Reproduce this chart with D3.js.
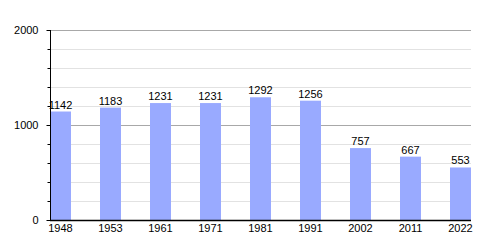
<!DOCTYPE html>
<html>
<head>
<meta charset="utf-8">
<script src="https://cdn.jsdelivr.net/npm/d3@7"></script>
<style>
  body { margin: 0; background: #fff; }
  text { font-family: "Liberation Sans", Arial, sans-serif; font-size: 11px; fill: #000; }
</style>
</head>
<body>
<svg id="chart" width="500" height="250"></svg>
<script>
// population by census year
const years = ['1948', '1953', '1961', '1971', '1981', '1991', '2002', '2011', '2022'];
const population = [1142, 1183, 1231, 1231, 1292, 1256, 757, 667, 553];
const majorTicks = [0, 1000, 2000];
const minorTicks = d3.range(0, 2001, 200);

const svg = d3.select('#chart');
const plotLeft = 50, plotRight = 471, plotTop = 30, plotBottom = 220;

const x = d3.scaleBand()
    .domain(years)
    .range([plotLeft, plotLeft + 50 * years.length])
    .paddingInner(0)
    .paddingOuter(0);
const barW = 21;

const y = d3.scaleLinear().domain([0, 2000]).range([plotBottom, plotTop]);

const minorOnly = minorTicks.filter(d => !majorTicks.includes(d));

// grid
svg.append('g').selectAll('line')
    .data(minorOnly)
    .join('line')
    .attr('x1', plotLeft).attr('x2', plotRight)
    .attr('y1', d => y(d) + 0.5).attr('y2', d => y(d) + 0.5)
    .attr('stroke', '#e2e2e2');

svg.append('g').selectAll('line')
    .data(majorTicks.filter(d => d > 0))
    .join('line')
    .attr('x1', plotLeft).attr('x2', plotRight)
    .attr('y1', d => y(d) + 0.5).attr('y2', d => y(d) + 0.5)
    .attr('stroke', '#a8a8a8');

// bars
svg.append('g').selectAll('rect')
    .data(population)
    .join('rect')
    .attr('x', (d, i) => x(years[i]))
    .attr('y', d => y(d))
    .attr('width', barW)
    .attr('height', d => plotBottom - y(d))
    .attr('fill', '#99aaff');

// value labels
svg.append('g').selectAll('text')
    .data(population)
    .join('text')
    .attr('x', (d, i) => x(years[i]) + barW / 2)
    .attr('y', d => y(d) - 3)
    .attr('text-anchor', 'middle')
    .text(d => d);

// y axis
const yAxis = d3.axisLeft(y).tickValues(majorTicks).tickSize(4).tickFormat(d3.format('d'));
const gy = svg.append('g').attr('transform', `translate(${plotLeft + 0.5},0)`).call(yAxis);
gy.attr('font-family', null).attr('font-size', null);
gy.select('.domain').attr('stroke', '#000').attr('d', `M0,${plotTop}V${plotBottom}`);
gy.selectAll('.tick line').attr('stroke', '#000');
gy.selectAll('text').attr('x', -12);

svg.append('g').attr('transform', `translate(${plotLeft + 0.5},0)`)
    .selectAll('line')
    .data(minorOnly)
    .join('line')
    .attr('x1', -3).attr('x2', 0)
    .attr('y1', d => y(d) + 0.5).attr('y2', d => y(d) + 0.5)
    .attr('stroke', '#000');

// x axis
svg.append('line')
    .attr('x1', plotLeft).attr('x2', plotRight)
    .attr('y1', plotBottom + 0.5).attr('y2', plotBottom + 0.5)
    .attr('stroke', '#000').attr('stroke-width', 1.5);

svg.append('g').selectAll('text')
    .data(years)
    .join('text')
    .attr('x', d => x(d) + barW / 2)
    .attr('y', plotBottom + 12)
    .attr('text-anchor', 'middle')
    .text(d => d);
</script>
</body>
</html>
